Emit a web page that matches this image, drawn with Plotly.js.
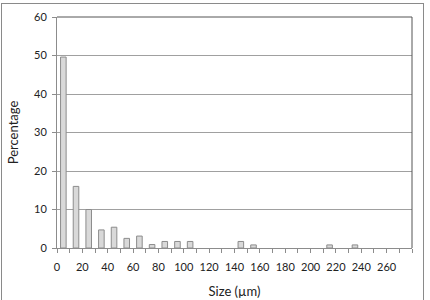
<!DOCTYPE html>
<html><head><meta charset="utf-8">
<script src="https://cdn.plot.ly/plotly-3.0.1.min.js"></script>
<style>
body{margin:0;padding:0;background:#fff;}
#wrap{position:relative;width:430px;height:300px;overflow:hidden;}
#chart{width:430px;height:300px;}
#frame{position:absolute;left:1px;top:3px;width:423px;height:310px;border:1.5px solid #8a8a8a;pointer-events:none;box-sizing:border-box;}
</style></head>
<body><div id="wrap"><div id="chart"></div><div id="frame"></div></div>
<script>
var binCenters = [5,15,25,35,45,55,65,75,85,95,105,115,125,135,145,155,165,175,185,195,205,215,225,235,245,255,265,275];
var percentages = [49.6,16,10,4.7,5.4,2.5,3.1,0.9,1.7,1.7,1.7,0,0,0,1.7,0.8,0,0,0,0,0,0.8,0,0.8,0,0,0,0];
var xTickVals = [0,20,40,60,80,100,120,140,160,180,200,220,240,260];
var xTickText = ['0','20','40','60','80','100','120','140','160','180','200','220','240','260'];
var yTickVals = [0,10,20,30,40,50,60];

var trace = {
  type:'bar', x:binCenters, y:percentages.map(function(v){return v===0?null:v;}), width:4.4,
  marker:{color:'#d9d9d9', line:{color:'#8c8c8c', width:1}},
  hoverinfo:'skip'
};
var font = {family:'Lato, "Open Sans", sans-serif', size:11, color:'#222'};
var layout = {
  width:430, height:300,
  margin:{l:57, r:18, t:17, b:52},
  paper_bgcolor:'#fff', plot_bgcolor:'#fff',
  showlegend:false, font:font, bargap:0,
  xaxis:{range:[0,280], tickvals:xTickVals, ticktext:xTickText, ticks:'outside', ticklen:4, tickcolor:'#8c8c8c',
    ticklabelstandoff:5,
    showgrid:false, zeroline:false, showline:true, linecolor:'#8c8c8c', linewidth:1,
    minor:{ticks:'outside', dtick:10, tick0:0, ticklen:4, tickcolor:'#8c8c8c', showgrid:false},
    tickfont:font, title:{text:'Size (µm)', font:{family:font.family, size:13, color:'#222'}, standoff:14}},
  yaxis:{range:[0,60], tickvals:yTickVals, ticks:'outside', ticklen:4, tickcolor:'#8c8c8c',
    ticklabelstandoff:3,
    showgrid:true, gridcolor:'#a0a0a0', gridwidth:1, zeroline:false, showline:true, linecolor:'#8c8c8c', linewidth:1,
    tickfont:font, title:{text:'Percentage', font:{family:font.family, size:13, color:'#222'}, standoff:12}},
  shapes:[
    {type:'line', xref:'paper', yref:'paper', x0:0, x1:1, y0:1, y1:1, line:{color:'#555', width:1}},
    {type:'line', xref:'paper', yref:'paper', x0:1, x1:1, y0:0, y1:1, line:{color:'#555', width:1}}
  ]
};
Plotly.newPlot('chart',[trace],layout,{displayModeBar:false, staticPlot:true});
</script></body></html>
